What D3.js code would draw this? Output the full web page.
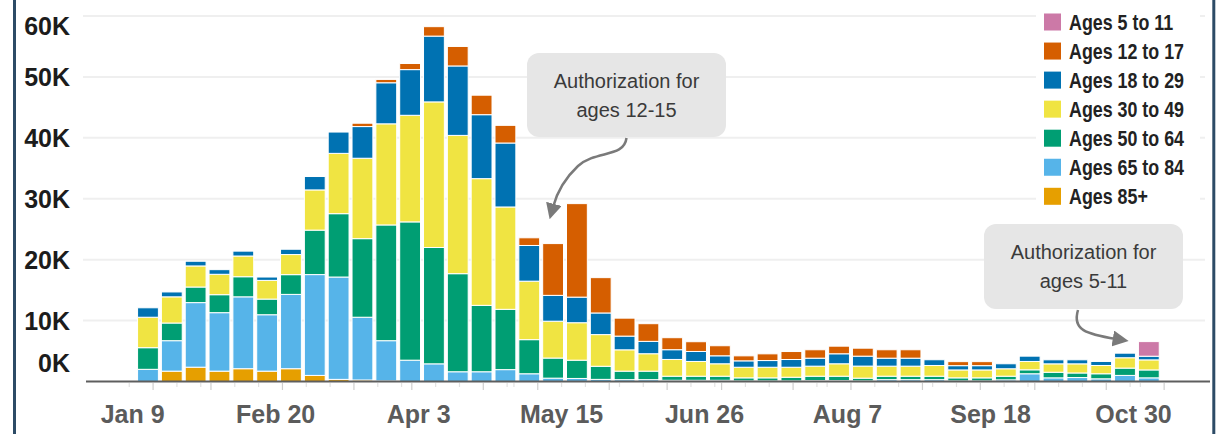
<!doctype html>
<html lang="en">
<head>
<meta charset="utf-8" />
<title>Weekly vaccinations by age group</title>
<script src="https://cdn.jsdelivr.net/npm/d3@7"></script>
<style>
  html, body { margin: 0; padding: 0; background: #fff; }
  svg { display: block; }
  .ylab { font: 700 25px "Liberation Sans", Arial, sans-serif; fill: #1c1c1c; }
  .xlab { font: 700 25px "Liberation Sans", Arial, sans-serif; fill: #5b5b5b; }
  .leg { font: 700 21.5px "Liberation Sans", Arial, sans-serif; fill: #222; }
  .note { font: 400 20px "Liberation Sans", Arial, sans-serif; fill: #3a3a3a; }
</style>
</head>
<body>
<svg id="chart" width="1216" height="434"></svg>
<script>
// week starting (Sunday)
const weeks = [
  '2021-01-10','2021-01-17','2021-01-24','2021-01-31','2021-02-07','2021-02-14','2021-02-21','2021-02-28',
  '2021-03-07','2021-03-14','2021-03-21','2021-03-28','2021-04-04','2021-04-11','2021-04-18','2021-04-25',
  '2021-05-02','2021-05-09','2021-05-16','2021-05-23','2021-05-30','2021-06-06','2021-06-13','2021-06-20',
  '2021-06-27','2021-07-04','2021-07-11','2021-07-18','2021-07-25','2021-08-01','2021-08-08','2021-08-15',
  '2021-08-22','2021-08-29','2021-09-05','2021-09-12','2021-09-19','2021-09-26','2021-10-03','2021-10-10',
  '2021-10-17','2021-10-24','2021-10-31'
];

// doses per week, thousands
const ages85 = [0,1.7,2.35,1.7,2.1,1.7,2.1,1.0,0.35,0.25,0.1,0,0,0,0,0,0,0,0,0,0,0,0,0,0,0,0,0,0,0,0,0,0,0,0,0,0,0,0,0,0,0,0];
const ages65 = [2.0,5.0,10.6,9.6,11.8,9.26,12.2,16.55,16.8,10.3,6.6,3.5,2.9,1.6,1.6,1.95,1.27,0.55,0.5,0.35,0.3,0.3,0.2,0.2,0.2,0.1,0.1,0.1,0.15,0.15,0.1,0.3,0.3,0.3,0.1,0.1,0.27,1.27,0.6,0.65,0.44,1.0,0.6];
const ages50 = [3.55,2.9,2.56,2.95,3.3,2.57,3.24,7.3,10.4,12.9,19.0,22.7,19.1,16.1,10.9,9.9,5.6,3.3,3.0,2.15,1.4,1.4,0.67,0.67,0.67,0.5,0.5,0.6,0.72,0.72,0.45,0.57,0.57,0.57,0.5,0.5,0.6,0.65,0.92,0.75,0.83,1.2,1.3];
const ages30 = [5.0,4.3,3.46,3.35,3.4,3.07,3.3,6.6,9.9,13.2,16.6,17.5,23.9,22.7,20.8,16.8,9.6,6.05,6.15,5.2,3.5,2.86,2.75,2.42,2.04,1.74,1.74,1.64,1.65,2.04,1.98,1.65,1.65,1.76,1.3,1.3,1.22,1.37,1.38,1.5,1.36,1.7,1.65];
const ages18 = [1.55,0.8,0.77,0.76,0.8,0.55,0.87,2.2,3.5,5.2,6.74,7.5,10.8,11.4,10.5,10.5,5.86,4.24,4.2,3.55,2.25,2.03,1.6,1.64,1.31,1.05,1.1,1.27,1.31,1.64,1.63,1.31,1.31,0.94,0.7,0.7,0.82,0.87,0.66,0.66,0.66,0.75,0.6];
const ages12 = [0,0,0,0,0,0,0,0,0,0.55,0.55,1.0,1.55,3.2,3.2,2.9,1.26,8.5,15.35,5.8,2.95,2.9,1.97,1.6,1.65,0.82,1.1,1.31,1.38,1.25,1.31,1.38,1.38,0,0.66,0.66,0,0,0,0,0,0,0];
const ages5  = [0,0,0,0,0,0,0,0,0,0,0,0,0,0,0,0,0,0,0,0,0,0,0,0,0,0,0,0,0,0,0,0,0,0,0,0,0,0,0,0,0,0,2.4];

const groups = ['Ages 85+','Ages 65 to 84','Ages 50 to 64','Ages 30 to 49','Ages 18 to 29','Ages 12 to 17','Ages 5 to 11'];
const colors = ['#E69F00','#56B4E9','#009E73','#F0E442','#0072B2','#D55E00','#CC79A7'];
const seriesVals = [ages85, ages65, ages50, ages30, ages18, ages12, ages5];

const yTicks = [0, 10, 20, 30, 40, 50, 60];
const xTickDates = ['2021-01-09','2021-02-20','2021-04-03','2021-05-15','2021-06-26','2021-08-07','2021-09-18','2021-10-30'];
const xTickLabels = ['Jan 9','Feb 20','Apr 3','May 15','Jun 26','Aug 7','Sep 18','Oct 30'];

const svg = d3.select('#chart');
const parse = d3.utcParse('%Y-%m-%d');
const DAY = 864e5;

const x = d3.scaleUtc().domain([parse('2020-12-26'), parse('2021-11-20')]).range([85, 1205]);
const y = d3.scaleLinear().domain([0, 60]).range([381.5, 16]);

const rows = weeks.map((w, i) => {
  const r = { date: parse(w) };
  groups.forEach((g, k) => { r[g] = seriesVals[k][i]; });
  return r;
});
const stacked = d3.stack().keys(groups)(rows);

// gridlines
svg.append('g').selectAll('line').data(yTicks.filter(d => d > 0)).join('line')
  .attr('x1', 83).attr('x2', 1205)
  .attr('y1', d => y(d)).attr('y2', d => y(d))
  .attr('stroke', '#efefef').attr('stroke-width', 2);

// y labels
const yOffset = { 0: -19, 60: 10 };
svg.append('g').selectAll('text').data(yTicks).join('text')
  .attr('class', 'ylab')
  .attr('x', 70).attr('text-anchor', 'end')
  .attr('y', d => y(d) + 9 + (yOffset[d] || 0))
  .text(d => d + 'K');

// x ticks: weekly minor, every third week a bit longer
const tickDays = d3.utcDay.every(7).range(parse('2021-01-02'), parse('2021-11-14'));
svg.append('g').selectAll('line').data(tickDays).join('line')
  .attr('x1', d => x(d)).attr('x2', d => x(d))
  .attr('y1', 383).attr('y2', (d, i) => (i % 3 === 1 ? 390 : 387))
  .attr('stroke', (d, i) => (i % 3 === 1 ? '#cfcfcf' : '#e2e2e2')).attr('stroke-width', 1.2);

svg.append('g').selectAll('text').data(xTickDates).join('text')
  .attr('class', 'xlab')
  .attr('x', d => x(parse(d))).attr('y', 423).attr('text-anchor', 'middle')
  .text((d, i) => xTickLabels[i]);

// bars
svg.append('g').selectAll('g').data(stacked).join('g')
  .attr('fill', (s, i) => colors[i])
  .selectAll('rect').data(s => s.filter(d => d[1] - d[0] > 0)).join('rect')
  .attr('x', d => x(d.data.date) + 1.5)
  .attr('width', d => x(new Date(+d.data.date + 7 * DAY)) - x(d.data.date) - 3)
  .attr('y', d => y(d[1]))
  .attr('height', d => y(d[0]) - y(d[1]))
  .attr('stroke', '#fff').attr('stroke-width', 1);

// baseline
svg.append('line').attr('x1', 86).attr('x2', 1210).attr('y1', y(0)).attr('y2', y(0))
  .attr('stroke', '#5e5e5e').attr('stroke-width', 2);

// legend
const leg = svg.append('g');
leg.append('rect').attr('x', 1036).attr('y', 0).attr('width', 164).attr('height', 205).attr('fill', '#fff');
const legOrder = groups.slice().reverse();
const legRows = leg.selectAll('g').data(legOrder).join('g')
  .attr('transform', (d, i) => `translate(1044,${13.5 + i * 29.05})`);
legRows.append('rect').attr('width', 17).attr('height', 17)
  .attr('fill', d => colors[groups.indexOf(d)]);
// narrow look: squeeze the regular face horizontally
legRows.append('text').attr('class', 'leg')
  .attr('transform', 'translate(25,16) scale(0.83,1)')
  .text(d => d);

// annotations
svg.append('defs').append('marker')
  .attr('id', 'arrow').attr('viewBox', '0 0 10 10').attr('refX', 2).attr('refY', 5)
  .attr('markerWidth', 16).attr('markerHeight', 16).attr('markerUnits', 'userSpaceOnUse')
  .attr('orient', 'auto')
  .append('path').attr('d', 'M0,0 L10,5 L0,10 z').attr('fill', '#7a7a7a');

function note(x0, y0, w, h, lines) {
  const g = svg.append('g');
  g.append('rect').attr('x', x0).attr('y', y0).attr('width', w).attr('height', h)
    .attr('rx', 12).attr('fill', '#e6e6e6');
  lines.forEach((t, i) => {
    g.append('text').attr('class', 'note').attr('text-anchor', 'middle')
      .attr('x', x0 + w / 2).attr('y', y0 + 35 + i * 29).text(t);
  });
}
note(527, 53, 199, 84, ['Authorization for', 'ages 12-15']);
note(984, 224, 199, 85, ['Authorization for', 'ages 5-11']);

svg.append('path')
  .attr('d', 'M626.5,138 C624,158 596,150 578,166 C563,180 556,196 553,207')
  .attr('fill', 'none').attr('stroke', '#7a7a7a').attr('stroke-width', 2.5)
  .attr('marker-end', 'url(#arrow)');
svg.append('path')
  .attr('d', 'M1078,310 C1072,330 1086,334 1116,339')
  .attr('fill', 'none').attr('stroke', '#7a7a7a').attr('stroke-width', 2.5)
  .attr('marker-end', 'url(#arrow)');

// frame
svg.append('line').attr('x1', 14.5).attr('x2', 14.5).attr('y1', 0).attr('y2', 434)
  .attr('stroke', '#2d4b66').attr('stroke-width', 3);
svg.append('line').attr('x1', 1213.8).attr('x2', 1213.8).attr('y1', 0).attr('y2', 434)
  .attr('stroke', '#2d4b66').attr('stroke-width', 3);
</script>
</body>
</html>
